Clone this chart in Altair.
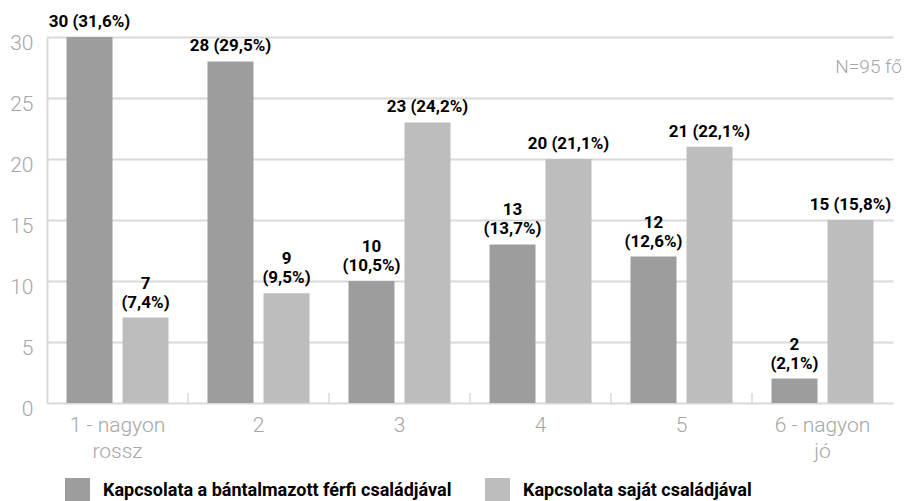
import altair as alt
import pandas as pd

categories = ["1 - nagyon rossz", "2", "3", "4", "5", "6 - nagyon jó"]
series = ["Kapcsolata a bántalmazott férfi családjával", "Kapcsolata saját családjával"]
dark_values = [30, 28, 10, 13, 12, 2]
light_values = [7, 9, 23, 20, 21, 15]
dark_two_line = [False, False, True, True, True, True]
light_two_line = [True, True, False, False, False, False]
total_n = 95
colors = ["#9d9d9d", "#bdbdbd"]
y_ticks = [0, 5, 10, 15, 20, 25, 30]

rows = []
for s, vals, flags in [(series[0], dark_values, dark_two_line), (series[1], light_values, light_two_line)]:
    for c, v, t in zip(categories, vals, flags):
        pct = f"{v / total_n * 100:.1f}".replace(".", ",")
        if t:
            top, bottom = f"{v}", f"({pct}%)"
        else:
            top, bottom = "", f"{v} ({pct}%)"
        rows.append({"cat": c, "series": s, "value": v, "top": top, "bottom": bottom})
df = pd.DataFrame(rows)

FONT = "Roboto"
GRAY_TXT = "#a6a6a6"
GRID = "#d9d9d9"

label_expr = ("indexof(datum.value, ' - ') > 0 ? "
              "[slice(datum.value, 0, lastindexof(datum.value, ' ')), "
              "slice(datum.value, lastindexof(datum.value, ' ') + 1)] : datum.value")

x_enc = alt.X(
    "cat:N", sort=categories,
    scale=alt.Scale(range=[0, 846], paddingInner=0, paddingOuter=0),
    axis=alt.Axis(title=None, domain=False, ticks=False, labelAngle=0, labelFont=FONT,
                  labelFontSize=21, labelFontWeight=300, labelColor=GRAY_TXT, labelPadding=11,
                  labelLineHeight=26, labelExpr=label_expr, labelOverlap=False, labelLimit=300),
)
xoff = alt.XOffset("series:N", sort=series, scale=alt.Scale(paddingInner=0.1786, paddingOuter=0.348))
y_enc = alt.Y(
    "value:Q", scale=alt.Scale(domain=[0, 30], nice=False),
    axis=alt.Axis(title=None, values=y_ticks, grid=True, gridColor=GRID, gridWidth=2,
                  domain=True, domainColor=GRID, domainWidth=2, ticks=False,
                  labelFont=FONT, labelFontSize=21, labelFontWeight=300, labelColor=GRAY_TXT,
                  labelPadding=14, labelOffset=6),
)

base = alt.Chart(df)
bars = base.mark_bar().encode(
    x=x_enc, xOffset=xoff, y=y_enc,
    color=alt.Color("series:N", sort=series, scale=alt.Scale(domain=series, range=colors),
                    legend=alt.Legend(orient="none", legendX=18, legendY=441, direction="horizontal",
                                      title=None, symbolType="square", symbolSize=625,
                                      symbolStrokeWidth=0, symbolOpacity=1, labelFont=FONT,
                                      labelFontWeight="bold", labelFontSize=18, labelColor="black",
                                      columnPadding=33, labelOffset=13, labelLimit=500)),
)
txt_style = dict(baseline="bottom", font=FONT, fontWeight="bold", fontSize=17, color="black")
texts_bottom = base.mark_text(dy=-6, **txt_style).encode(
    x=x_enc, xOffset=xoff, y="value:Q", text="bottom:N"
)
texts_top = base.mark_text(dy=-25, **txt_style).encode(
    x=x_enc, xOffset=xoff, y="value:Q", text="top:N"
)
ticks = alt.Chart(pd.DataFrame({"cat": categories[1:]})).mark_rule(color=GRID, strokeWidth=1.5).encode(
    x=alt.X("cat:N", sort=categories, bandPosition=0), y=alt.value(356), y2=alt.value(366)
)
ntext = alt.Chart(pd.DataFrame({"t": [f"N={total_n} fő"]})).mark_text(
    align="right", baseline="middle", font=FONT, fontSize=19, fontWeight=300, color=GRAY_TXT
).encode(text="t:N", x=alt.value(855), y=alt.value(30))

chart = alt.layer(bars, ticks, texts_bottom, texts_top, ntext).properties(
    width=855, height=366, autosize="none",
    padding={"left": 39, "top": 29, "right": 2, "bottom": 98},
    background="white",
).configure_view(stroke=None)

chart.save("out.html", embed_options={"renderer": "svg", "actions": False})
